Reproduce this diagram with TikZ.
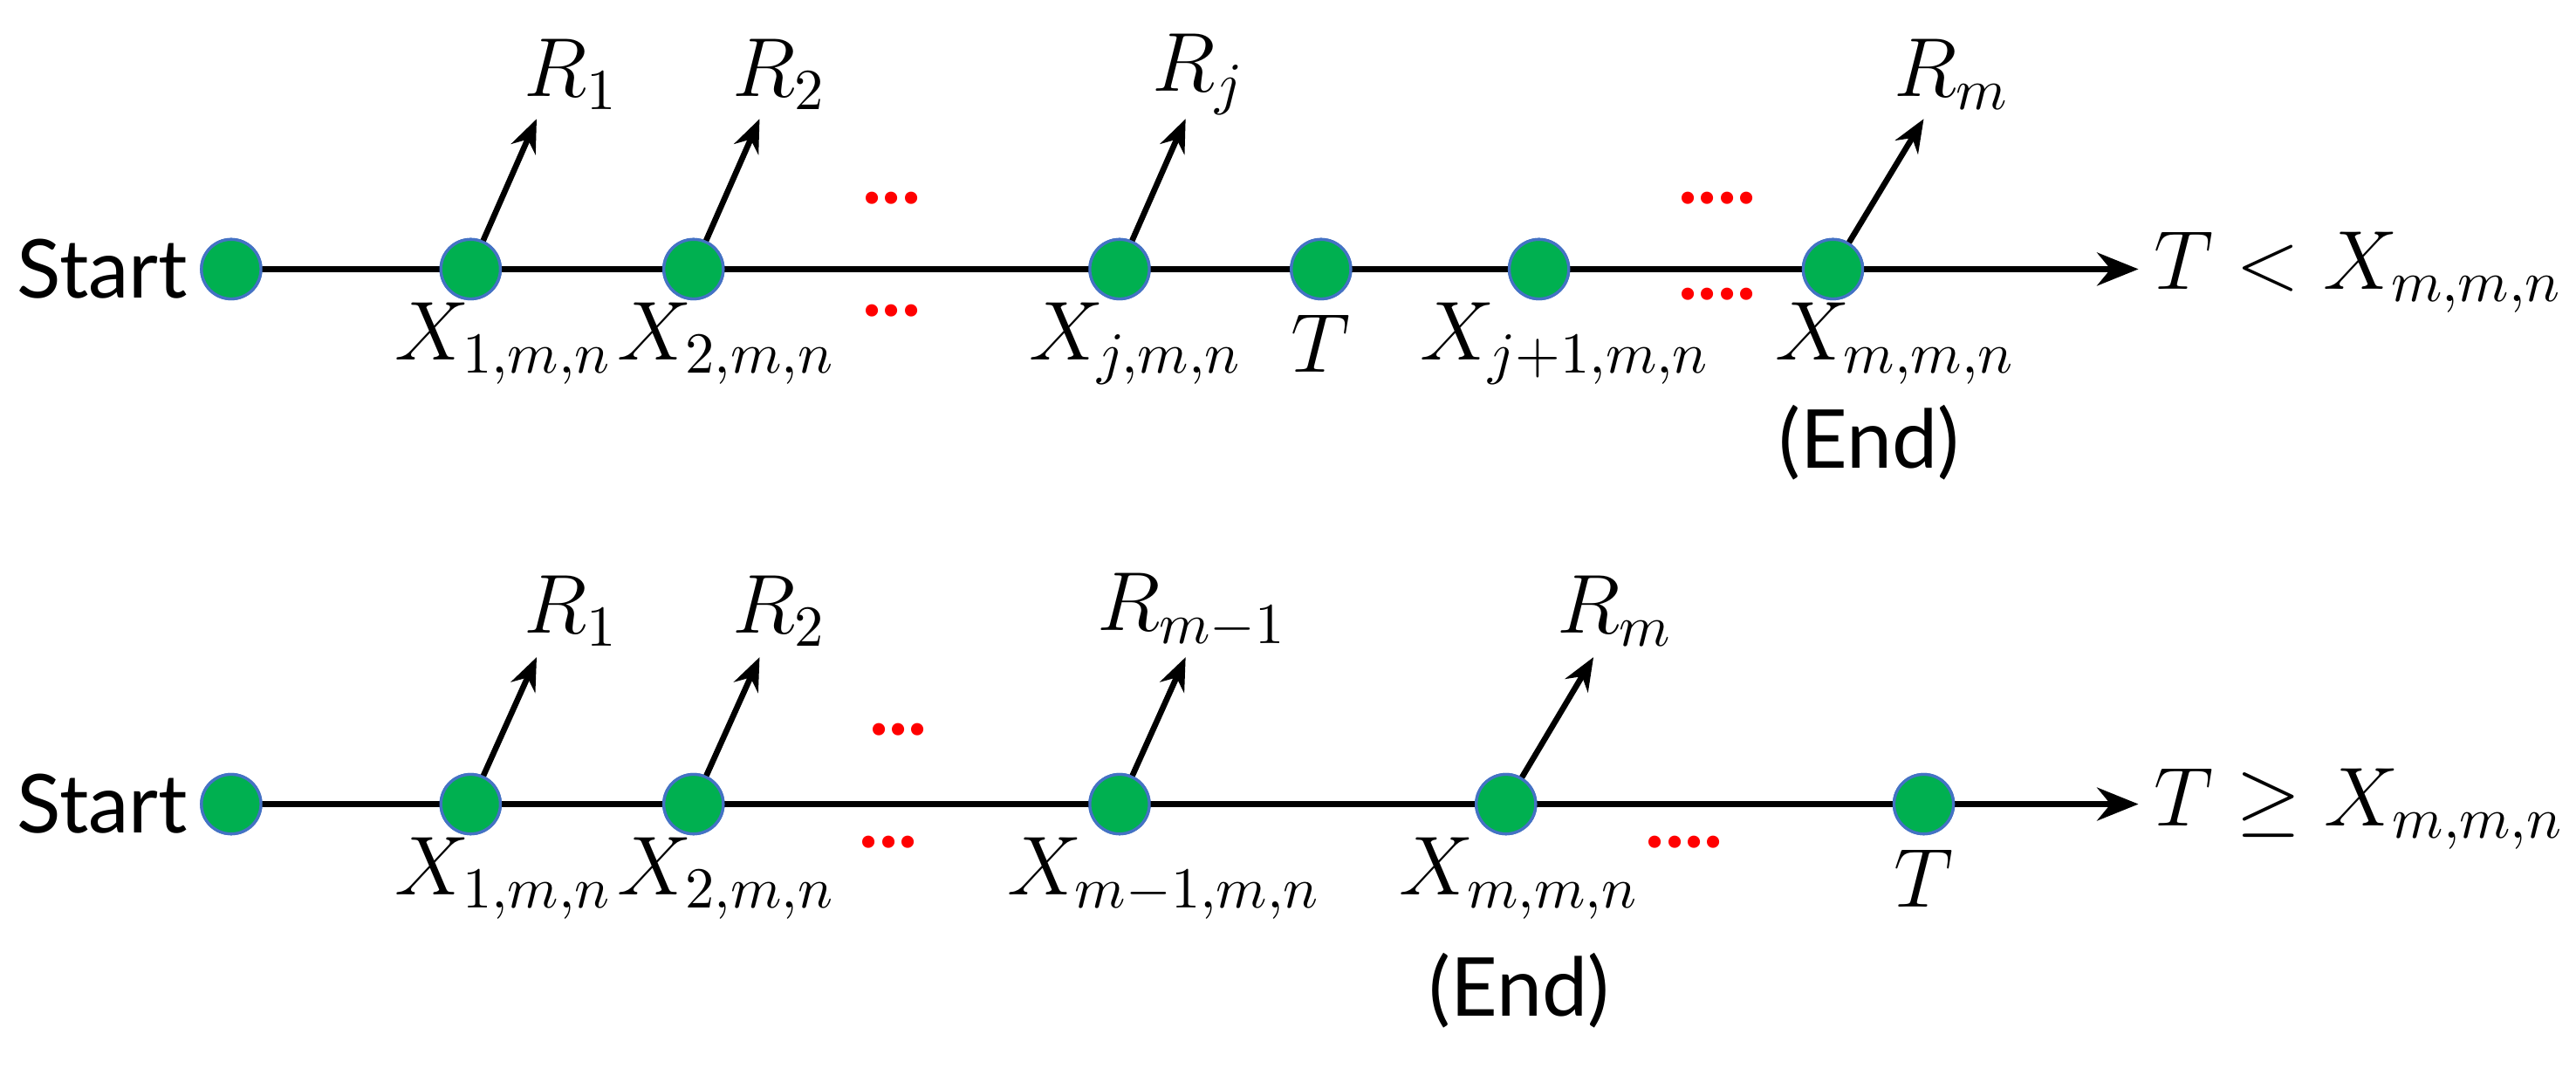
\documentclass[tikz,border=0pt]{standalone}
\usepackage{fontspec}
\setmainfont{Lato}
\usetikzlibrary{arrows.meta}
\definecolor{dotgreen}{HTML}{00B050}
\definecolor{dotedge}{HTML}{4472C4}
\tikzset{
  pt/.style={circle,fill=dotgreen,draw=dotedge,line width=0.5pt,minimum size=0.36cm,inner sep=0pt},
  axis/.style={line width=1pt,-{Stealth[length=0.25cm,width=0.2cm]}},
  rew/.style={line width=1pt,-{Stealth[length=0.2cm,width=0.16cm]}},
  lab/.style={font=\fontsize{14}{16}\selectfont,inner sep=1pt},
  rd/.style={text=red,font=\bfseries\fontsize{14}{14}\selectfont,inner sep=0pt}
}
\begin{document}
\begin{tikzpicture}[x=0.01cm,y=-0.01cm]
\useasboundingbox (0,0) rectangle (1560,655);
% top row
\node[lab] (s1) at (62,163) {Start};
\node[pt] (a0) at (140,163) {};
\node[pt] (a1) at (285,163) {};
\node[pt] (a2) at (420,163) {};
\node[pt] (a3) at (678,163) {};
\node[pt] (a4) at (800,163) {};
\node[pt] (a5) at (932,163) {};
\node[pt] (a6) at (1110,163) {};
\coordinate (ae) at (1295,163);
\draw[axis] (a0.center) -- (ae);
\foreach \n in {a0,a1,a2,a3,a4,a5,a6} \node[pt] at (\n) {};
\node[lab,anchor=west] (tr1) at (1300,165) {$T < X_{m,m,n}$};
\coordinate (r1) at (325,72); \coordinate (r2) at (460,72);
\coordinate (r3) at (718,72); \coordinate (r4) at (1165,72);
\draw[rew] (a1) -- (r1); \draw[rew] (a2) -- (r2);
\draw[rew] (a3) -- (r3); \draw[rew] (a6) -- (r4);
\node[lab] (lr1) at (346,45) {$R_1$};
\node[lab] (lr2) at (472,45) {$R_2$};
\node[lab] (lr3) at (726,45) {$R_j$};
\node[lab] (lr4) at (1182,45) {$R_m$};
\node[lab] (x1) at (305,208) {$X_{1,m,n}$};
\node[lab] (x2) at (440,208) {$X_{2,m,n}$};
\node[lab] (x3) at (688,208) {$X_{j,m,n}$};
\node[lab] (x4) at (800,208) {$T$};
\node[lab] (x5) at (948,208) {$X_{j+1,m,n}$};
\node[lab] (x6) at (1148,208) {$X_{m,m,n}$};
\node[lab] (e1) at (1132,268) {(End)};
\node[rd] (d1) at (540,120) {...};
\node[rd] (d2) at (540,188) {...};
\node[rd] (d3) at (1040,120) {....};
\node[rd] (d4) at (1040,178) {....};
% bottom row
\node[lab] (s2) at (62,487) {Start};
\node[pt] (b0) at (140,487) {};
\node[pt] (b1) at (285,487) {};
\node[pt] (b2) at (420,487) {};
\node[pt] (b3) at (678,487) {};
\node[pt] (b4) at (912,487) {};
\node[pt] (b5) at (1165,487) {};
\coordinate (be) at (1295,487);
\draw[axis] (b0.center) -- (be);
\foreach \n in {b0,b1,b2,b3,b4,b5} \node[pt] at (\n) {};
\node[lab,anchor=west] (tr2) at (1300,490) {$T \geq X_{m,m,n}$};
\coordinate (q1) at (325,398); \coordinate (q2) at (460,398);
\coordinate (q3) at (718,398); \coordinate (q4) at (965,398);
\draw[rew] (b1) -- (q1); \draw[rew] (b2) -- (q2);
\draw[rew] (b3) -- (q3); \draw[rew] (b4) -- (q4);
\node[lab] (lq1) at (346,370) {$R_1$};
\node[lab] (lq2) at (472,370) {$R_2$};
\node[lab] (lq3) at (722,370) {$R_{m-1}$};
\node[lab] (lq4) at (978,370) {$R_m$};
\node[lab] (y1) at (305,532) {$X_{1,m,n}$};
\node[lab] (y2) at (440,532) {$X_{2,m,n}$};
\node[lab] (y3) at (705,532) {$X_{m-1,m,n}$};
\node[lab] (y4) at (920,532) {$X_{m,m,n}$};
\node[lab] (y5) at (1165,532) {$T$};
\node[lab] (e2) at (920,600) {(End)};
\node[rd] (f1) at (544,442) {...};
\node[rd] (f2) at (538,510) {...};
\node[rd] (f3) at (1020,510) {....};
\end{tikzpicture}
\end{document}
